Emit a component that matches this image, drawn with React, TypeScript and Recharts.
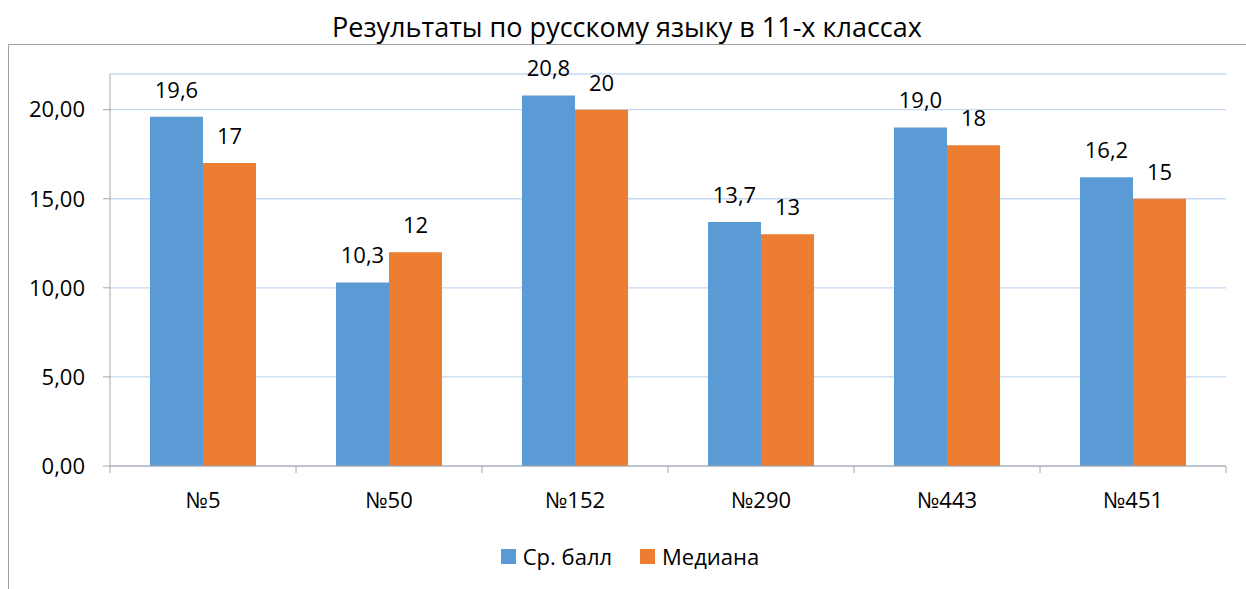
import React from 'react';
import { BarChart, Bar, XAxis, YAxis, CartesianGrid, LabelList } from 'recharts';

const categories = ['№5', '№50', '№152', '№290', '№443', '№451'];
const avgScore = [19.6, 10.3, 20.8, 13.7, 19.0, 16.2];
const median = [17, 12, 20, 13, 18, 15];
const yTicks = [0, 5, 10, 15, 20];
const seriesNames = ['Ср. балл', 'Медиана'];
const colors = ['#5B9BD5', '#ED7D31'];

const data = categories.map((c, i) => ({ name: c, avg: avgScore[i], med: median[i] }));

const FONT = '"Open Sans", sans-serif';
const comma = (v: number, d: number) => v.toFixed(d).replace('.', ',');

const CatTick = (props: any) => {
  const { x, y, payload, index, visibleTicksCount, width } = props;
  const half = payload && typeof payload.offset === 'number' && payload.offset > 0
    ? payload.offset
    : width / (2 * visibleTicksCount);
  const isLast = index === visibleTicksCount - 1;
  return (
    <g>
      <line x1={x - half} x2={x - half} y1={y} y2={y + 7} stroke="#a6a6a6" strokeWidth={1} />
      {isLast && <line x1={x + half} x2={x + half} y1={y} y2={y + 7} stroke="#a6a6a6" strokeWidth={1} />}
      <text x={x} y={y + 42} textAnchor="middle" fill="#000" fontSize={22} fontFamily={FONT}>
        {payload.value}
      </text>
    </g>
  );
};

const LegendBlock = () => (
  <div style={{ position: 'absolute', left: 0, top: 540, width: 1260, display: 'flex', justifyContent: 'center', alignItems: 'center', fontFamily: FONT, fontSize: 22, color: '#000', lineHeight: '32px' }}>
    {seriesNames.map((n, i) => (
      <div key={n} style={{ display: 'flex', alignItems: 'center', marginRight: i === 0 ? 28 : 0 }}>
        <div style={{ width: 15, height: 15, background: colors[i], marginRight: 7 }} />
        <span>{n}</span>
      </div>
    ))}
  </div>
);

export default function App() {
  return (
    <div style={{ position: 'absolute', left: 0, top: 0, width: 1246, height: 589, overflow: 'hidden', background: '#fff' }}>
      <div style={{ position: 'absolute', left: 8, top: 44, width: 1300, height: 700, border: '1px solid #a0a0a0', boxSizing: 'border-box' }} />
      <div style={{ position: 'absolute', left: 0, top: 8, width: 1254, textAlign: 'center', fontFamily: FONT, fontSize: 27, color: '#000', lineHeight: '38px' }}>
        Результаты по русскому языку в 11-х классах
      </div>
      <div style={{ position: 'absolute', left: 0, top: 0 }}>
        <BarChart width={1246} height={589} data={data} margin={{ top: 74, right: 20, left: 0, bottom: 0 }} barCategoryGap="21.5%" barGap={0}>
          <CartesianGrid horizontal vertical={false} stroke="#c6d9f1" strokeWidth={1.3} />
          <XAxis dataKey="name" tickLine={false} tickSize={0} tickMargin={0} height={123} axisLine={{ stroke: '#a6a6a6' }} tick={<CatTick />} interval={0} />
          <YAxis width={110} domain={[0, 22]} ticks={yTicks} tickSize={7} tickMargin={18}
            tickLine={{ stroke: '#a6a6a6' }} axisLine={{ stroke: '#a6a6a6' }}
            tickFormatter={(v: number) => comma(v, 2)}
            tick={{ fill: '#000', fontSize: 22, fontFamily: FONT }} allowDataOverflow />
          <Bar dataKey="avg" name={seriesNames[0]} fill={colors[0]} isAnimationActive={false}>
            <LabelList dataKey="avg" position="top" offset={19} fill="#000" fontSize={22} fontFamily={FONT} formatter={(v: any) => comma(Number(v), 1)} />
          </Bar>
          <Bar dataKey="med" name={seriesNames[1]} fill={colors[1]} isAnimationActive={false}>
            <LabelList dataKey="med" position="top" offset={19} fill="#000" fontSize={22} fontFamily={FONT} formatter={(v: any) => String(v)} />
          </Bar>
        </BarChart>
      </div>
      <LegendBlock />
    </div>
  );
}
